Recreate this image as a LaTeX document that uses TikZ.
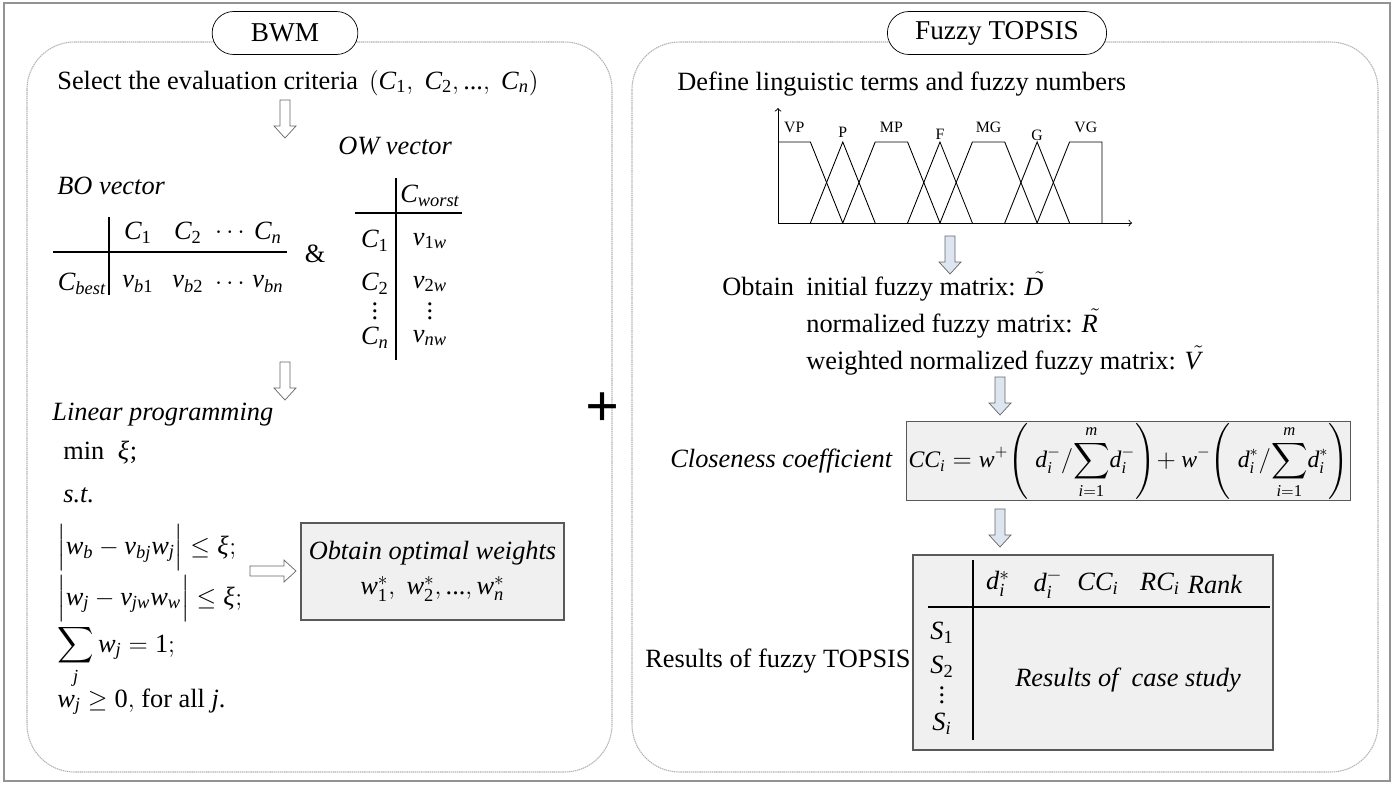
\documentclass[tikz,border=0pt]{standalone}
\usepackage{amsmath}
\usepackage{mathspec}
\setmainfont{Liberation Serif}
\setmathsfont(Digits,Latin,Greek){Liberation Serif}
\newfontfamily\tnr{Liberation Serif}
\usetikzlibrary{shapes.misc,positioning}
\definecolor{arrblue}{RGB}{221,229,240}
\definecolor{boxgray}{RGB}{240,240,240}
\newcommand{\msize}{\tnr\fontsize{15}{18}\selectfont}
\newcommand{\fzmat}[1]{\skew{8}\tilde{#1}}
\tikzset{
        panel/.style={draw=gray!60,line width=0.6pt,dash pattern=on 0.8pt off 0.4pt,rounded corners=0.95cm},
        pill/.style={rounded rectangle,draw,fill=white,minimum width=3.15cm,minimum height=0.86cm,font=\tnr\fontsize{15.5}{18}\selectfont},
        txt/.style={anchor=base west,inner sep=0pt,font=\msize},
        itxt/.style={txt,font=\msize\itshape},
        cell/.style={inner sep=0pt,font=\msize},
        graybox/.style={draw=black!65,fill=boxgray,line width=0.7pt,inner sep=1pt},
        fzlabel/.style={anchor=base,inner sep=0pt,font=\tnr\fontsize{9}{10}\selectfont},
        dnarr/.pic={\path[pic actions] (-5,0)--(5,0)--(5,26)--(11,26)--(0,38)--(-11,26)--(-5,26)--cycle;},
        rtarr/.pic={\path[pic actions] (0,-5)--(34,-5)--(34,-11)--(46,0)--(34,11)--(34,5)--(0,5)--cycle;}
}
\begin{document}
\begin{tikzpicture}[x=0.02cm,y=-0.02cm]
        \useasboundingbox (0,0) rectangle (1395,785);
        \draw[gray!85,line width=0.8pt] (4,3) rectangle (1390,781);
        \draw[panel] (27,42) rectangle (612,772);
        \draw[panel] (632,42) rectangle (1378,772);
        \node[pill] (bwm) at (285,33) {BWM};
        \node[pill,minimum width=4.62cm] (ftop) at (997,33) {Fuzzy TOPSIS};
        \node[font=\fontsize{34}{34}\selectfont\bfseries,inner sep=0pt] (plus) at (603,410) {+};
        % BWM side
        \node[txt] (sel) at (57,89) {Select the evaluation criteria \,$(C_1,\;C_2,\text{...},\;C_n)$};
        \pic[draw=gray!80!black,fill=white] at (285,100) {dnarr};
        \node[itxt] (ow) at (338,154) {OW vector};
        \node[itxt] (bo) at (57,194) {BO vector};
        \draw[line width=1pt] (53,252) -- (287,252);
        \draw[line width=1pt] (109,217) -- (109,295);
        \node[cell] (best) at (82,284) {$C_{best}$};
        \foreach \x/\c/\v [count=\i] in {138/C_1/v_{b1},188/C_2/v_{b2},232/\cdots/\cdots,268/C_n/v_{bn}}{
                \node[cell] (boh\i) at (\x,233) {$\c$};
                \node[cell] (bov\i) at (\x,284) {$\v$};
        }
        \node[cell] (amp) at (315,254) {\&};
        \draw[line width=1pt] (396,178) -- (396,360);
        \draw[line width=1pt] (355,213) -- (462,213);
        \node[cell] (worst) at (430,196) {$C_{worst}$};
        \foreach \y/\c/\v [count=\i] in {241/C_1/v_{1w},284/C_2/v_{2w},306/\vdots/\vdots,338/C_n/v_{nw}}{
                \node[cell] (owc\i) at (375,\y) {$\c$};
                \node[cell] (owv\i) at (430,\y) {$\v$};
        }
        \pic[draw=gray!80!black,fill=white] at (285,362) {dnarr};
        \node[itxt] (lp) at (52,420) {Linear programming};
        \node[txt] (min) at (63,459) {min\ \ $\xi$;};
        \node[txt] (st) at (63,502) {\textit{s.t.}};
        \node[txt] (cb) at (57,554) {$\Bigl\vert w_b-v_{bj}w_j\Bigr\vert\le\xi;$};
        \node[txt] (cw) at (57,605) {$\Bigl\vert w_j-v_{jw}w_w\Bigr\vert\le\xi;$};
        \node[txt] (cs) at (57,652) {$\displaystyle\sum_j w_j=1;$};
        \node[txt] (cp) at (57,707) {$w_j\ge0,$\ for all $j$.};
        \pic[draw=gray!80!black,fill=white] at (250,571) {rtarr};
        \node[graybox,minimum width=5.26cm,minimum height=1.94cm,align=center,font=\msize] (opt) at (432.5,571.5)
                {\textit{Obtain optimal weights}\\[2pt]$w_1^*,\;w_2^*,\text{...},w_n^*$};
        % TOPSIS side
        \node[txt] (def) at (677,90) {Define linguistic terms and fuzzy numbers};
        \begin{scope}[shift={(778,223)},x=0.648cm,y=1.62cm,line width=0.5pt]
                \draw[->] (0,0) -- (10.93,0);
                \draw[->] (0,0) -- (0,1.42);
                \draw (0,1) -- (1,1) -- (2,0);
                \draw (1,0) -- (2,1) -- (3,0);
                \draw (2,0) -- (3,1) -- (4,1) -- (5,0);
                \draw (4,0) -- (5,1) -- (6,0);
                \draw (5,0) -- (6,1) -- (7,1) -- (8,0);
                \draw (7,0) -- (8,1) -- (9,0);
                \draw (8,0) -- (9,1) -- (10,1) -- (10,0);
                \foreach \x/\t/\h in {0.5/VP/1.12,2/P/1.05,3.5/MP/1.12,5/F/1.03,6.5/MG/1.12,8/G/1.02,9.5/VG/1.12}
                        \node[fzlabel] (fz\t) at (\x,\h) {\t};
        \end{scope}
        \pic[draw=gray!80!black,fill=arrblue] at (950,236) {dnarr};
        \node[txt] (obt) at (722,295) {Obtain};
        \node[txt] (ini) at (806,295) {initial fuzzy matrix: $\fzmat{D}$};
        \node[txt] (nor) at (806,332) {normalized fuzzy matrix: $\fzmat{R}$};
        \node[txt] (wei) at (806,369) {weighted normalized fuzzy matrix: $\fzmat{V}$};
        \pic[draw=gray!80!black,fill=arrblue] at (1000,377) {dnarr};
        \node[itxt] (clo) at (670,467) {Closeness coefficient};
        \node[graybox,minimum width=8.66cm,minimum height=1.56cm,font=\tnr\fontsize{13.5}{16}\selectfont] (cc) at (1128.5,461)
                {$\displaystyle CC_i=w^{+}\!\left(\;d_i^{-}/\!\sum_{i=1}^{m}\!d_i^{-}\right)\!+w^{-}\!\left(\;d_i^{*}/\!\sum_{i=1}^{m}\!d_i^{*}\right)$};
        \pic[draw=gray!80!black,fill=arrblue] at (1000,509) {dnarr};
        \node[graybox,minimum width=7.2cm,minimum height=3.9cm] (res) at (1093,652.5) {};
        \draw[line width=1.5pt] (973,560) -- (973,740);
        \draw[line width=1.5pt] (928,607) -- (1270,607);
        \foreach \x/\t [count=\i] in {998/d_i^*,1048/d_i^-,1098/CC_i,1160/RC_i}
                \node[cell] (rh\i) at (\x,584) {$\t$};
        \node[cell,font=\msize\itshape] (rh5) at (1215,584) {Rank};
        \foreach \y/\t [count=\i] in {633/S_1,667/S_2,690/\vdots,724/S_i}
                \node[cell] (rs\i) at (942,\y) {$\t$};
        \node[cell,font=\msize\itshape] (case) at (1128,680) {Results of \ case study};
        \node[txt] (rft) at (645,667) {Results of fuzzy TOPSIS};
\end{tikzpicture}
\end{document}
